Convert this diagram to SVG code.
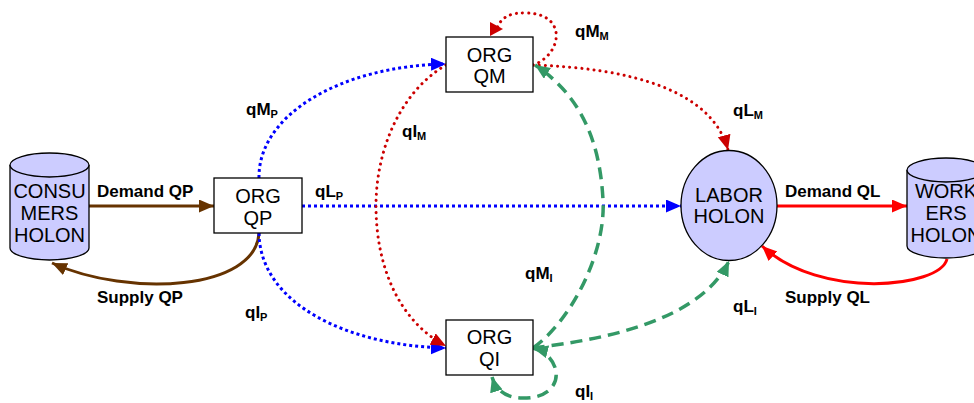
<svg xmlns="http://www.w3.org/2000/svg" width="974" height="403" viewBox="0 0 974 403">
<style>
.node{fill:#ccccff;stroke:#000;stroke-width:1.3}
.box{fill:#fff;stroke:#000;stroke-width:1.3}
.nt{font-family:"Liberation Sans",Arial,sans-serif;font-size:20px;fill:#000;text-anchor:middle}
.lb{font-family:"Liberation Sans",Arial,sans-serif;font-size:17px;font-weight:bold;fill:#000}
.sub{font-size:11px}
.c{fill:none}
.brown{stroke:#663300;stroke-width:3}
.redS{stroke:#ff0000;stroke-width:3}
.blue{stroke:#0000ff;stroke-width:3;stroke-dasharray:3 3}
.red{stroke:#cc0000;stroke-width:3;stroke-dasharray:0.1 6;stroke-linecap:round}
.green{stroke:#339966;stroke-width:3.5;stroke-dasharray:12 7}
</style>
<defs>
<marker id="aBrown" markerUnits="userSpaceOnUse" markerWidth="16" markerHeight="14" refX="15" refY="6.5" orient="auto"><path d="M0,0 L15,6.5 L0,13 z" fill="#663300"/></marker>
<marker id="aRedS" markerUnits="userSpaceOnUse" markerWidth="16" markerHeight="14" refX="15" refY="6.5" orient="auto"><path d="M0,0 L15,6.5 L0,13 z" fill="#ff0000"/></marker>
<marker id="aBlue" markerUnits="userSpaceOnUse" markerWidth="16" markerHeight="14" refX="15" refY="6.5" orient="auto"><path d="M0,0 L15,6.5 L0,13 z" fill="#0000ff"/></marker>
<marker id="aRed" markerUnits="userSpaceOnUse" markerWidth="16" markerHeight="14" refX="15" refY="6.5" orient="auto"><path d="M0,0 L15,6.5 L0,13 z" fill="#cc0000"/></marker>
<marker id="aRedR" markerUnits="userSpaceOnUse" markerWidth="16" markerHeight="16" refX="7" refY="7" orient="0"><path d="M0,0 L13,7 L0,14 z" fill="#cc0000"/></marker>
<marker id="aGreen" markerUnits="userSpaceOnUse" markerWidth="16" markerHeight="14" refX="15" refY="6.5" orient="auto-start-reverse"><path d="M0,0 L15,6.5 L0,13 z" fill="#339966"/></marker>
</defs>

<g id="connectors">
<path class="c brown" d="M89,206 L214,206" marker-end="url(#aBrown)"/>
<path class="c brown" d="M259,233 C256,290 130,298 52,263" marker-end="url(#aBrown)"/>
<path class="c blue" d="M259,178 C258,115 340,66 446,64" marker-end="url(#aBlue)"/>
<path class="c blue" d="M302,206 L681,206" marker-end="url(#aBlue)"/>
<path class="c blue" d="M259,233 C260,305 350,346 446,348" marker-end="url(#aBlue)"/>
<path class="c red" d="M446,65 C400,92 376,150 376,206 C376,268 400,322 446,346" marker-end="url(#aRed)"/>
<path class="c red" d="M533,65 C562,55 568,14 527,13 C510,12 500,18 497,29" marker-end="url(#aRedR)"/>
<path class="c red" d="M533,65 C630,68 712,90 728,150" marker-end="url(#aRed)"/>
<path class="c green" d="M533,348 C572,320 606,252 603,200 C600,140 580,95 535,65" marker-end="url(#aGreen)"/>
<path class="c green" d="M533,348 C600,340 700,322 729,261" marker-end="url(#aGreen)"/>
<path class="c green" d="M533,348 C564,356 568,400 520,398 C505,397 496,390 492,377" marker-start="url(#aGreen)" marker-end="url(#aGreen)"/>
<path class="c redS" d="M777,206 L907,206" marker-end="url(#aRedS)"/>
<path class="c redS" d="M947,259 C940,288 820,300 762,246" marker-end="url(#aRedS)"/>
</g>

<g id="consumers">
<path class="node" d="M10,165 L10,248 A39.5,12 0 0 0 89,248 L89,165"/>
<ellipse class="node" cx="49.5" cy="165" rx="39.5" ry="12"/>
<text class="nt" x="49.5" y="198">CONSU</text>
<text class="nt" x="49.5" y="220">MERS</text>
<text class="nt" x="49.5" y="242">HOLON</text>
</g>

<g id="orgqp">
<rect class="box" x="214" y="178" width="88" height="55"/>
<text class="nt" x="258" y="203">ORG</text>
<text class="nt" x="258" y="225">QP</text>
</g>

<g id="orgqm">
<rect class="box" x="446" y="37" width="87" height="55"/>
<text class="nt" x="489.5" y="62">ORG</text>
<text class="nt" x="489.5" y="83">QM</text>
</g>

<g id="orgqi">
<rect class="box" x="446" y="320" width="87" height="55"/>
<text class="nt" x="489.5" y="344">ORG</text>
<text class="nt" x="489.5" y="366">QI</text>
</g>

<g id="labor">
<ellipse class="node" cx="729" cy="205.5" rx="48" ry="55"/>
<text class="nt" x="729" y="202">LABOR</text>
<text class="nt" x="729" y="223">HOLON</text>
</g>

<g id="workers">
<path class="node" d="M907,170 L907,246 A39,12 0 0 0 985,246 L985,170"/>
<ellipse class="node" cx="946" cy="170" rx="39" ry="12"/>
<text class="nt" x="946" y="198">WORK</text>
<text class="nt" x="946" y="220">ERS</text>
<text class="nt" x="946" y="242">HOLON</text>
</g>

<g id="labels">
<text class="lb" x="97" y="197">Demand QP</text>
<text class="lb" x="97" y="303">Supply QP</text>
<text class="lb" x="785" y="197">Demand QL</text>
<text class="lb" x="785" y="303">Supply QL</text>
<text class="lb" x="246" y="115">qM<tspan class="sub" dy="3">P</tspan></text>
<text class="lb" x="402" y="137">qI<tspan class="sub" dy="3">M</tspan></text>
<text class="lb" x="315" y="197">qL<tspan class="sub" dy="3">P</tspan></text>
<text class="lb" x="575" y="37">qM<tspan class="sub" dy="3">M</tspan></text>
<text class="lb" x="245" y="318">qI<tspan class="sub" dy="3">P</tspan></text>
<text class="lb" x="733" y="116">qL<tspan class="sub" dy="3">M</tspan></text>
<text class="lb" x="575" y="397">qI<tspan class="sub" dy="3">I</tspan></text>
<text class="lb" x="525" y="279">qM<tspan class="sub" dy="3">I</tspan></text>
<text class="lb" x="733" y="312">qL<tspan class="sub" dy="3">I</tspan></text>
</g>
</svg>
